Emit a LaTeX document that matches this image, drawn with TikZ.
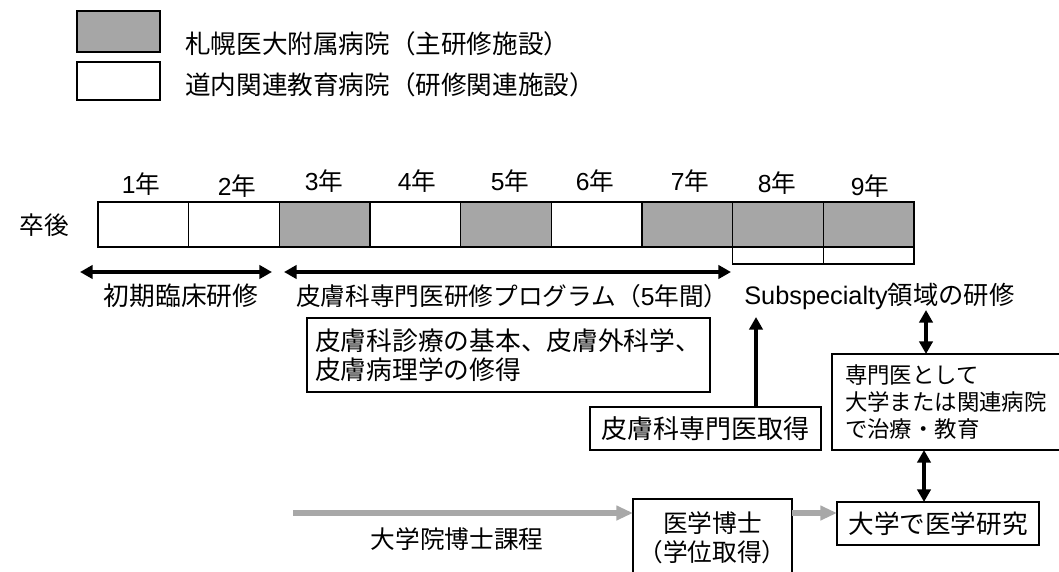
\documentclass[tikz,border=0pt]{standalone}
\usepackage{fontspec}
\setmainfont{Noto Sans CJK JP}
\newfontfamily\latin{Liberation Sans}
\usetikzlibrary{arrows.meta,calc,positioning}
\definecolor{hospgray}{HTML}{A6A6A6}
\definecolor{phdgray}{HTML}{A8A8A8}

\begin{document}
\begin{tikzpicture}[x=0.75pt, y=-0.75pt,
  cellw/.style={draw, line width=1pt, fill=white, minimum width=68pt, minimum height=33.75pt, inner sep=0, outer sep=0},
  cellg/.style={cellw, fill=hospgray},
  subcell/.style={draw, line width=1pt, minimum width=68pt, minimum height=12.75pt, inner sep=0, outer sep=0},
  txt/.style={inner sep=0, font=\fontsize{18.5}{21.75}\selectfont},
  box/.style={draw, line width=0.9pt, inner sep=0, outer sep=0},
  blk/.style={line width=3pt, -{Triangle[length=9.5pt,width=10pt]}},
  dbl/.style={line width=3pt, {Triangle[length=9.5pt,width=10pt]}-{Triangle[length=9.5pt,width=10pt]}},
  gry/.style={draw=phdgray, line width=4.5pt, -{Triangle[length=12.5pt,width=10.5pt]}}]

    \useasboundingbox (0,0) rectangle (1059,571);

    \node[box, fill=hospgray, minimum width=62.25pt, minimum height=30.75pt] (lega) at (118.5,31.5) {};
    \node[box, minimum width=62.25pt, minimum height=28.5pt]                 (legb) at (118.5,81)   {};
    \node[txt, anchor=west, font=\fontsize{19.2}{22}\selectfont] (legta) at (185,44) {札幌医大附属病院（主研修施設）};
    \node[txt, anchor=west, font=\fontsize{19.2}{22}\selectfont] (legtb) at (185,85) {道内関連教育病院（研修関連施設）};

    \node[txt] (after) at (44,225) {卒後};
    \node[cellw]                  (y1) at (143.3,224.5) {};
    \node[cellw, right=0pt of y1] (y2) {};
    \node[cellg, right=0pt of y2] (y3) {};
    \node[cellw, right=0pt of y3] (y4) {};
    \node[cellg, right=0pt of y4] (y5) {};
    \node[cellw, right=0pt of y5] (y6) {};
    \node[cellg, right=0pt of y6] (y7) {};
    \node[cellg, right=0pt of y7] (y8) {};
    \node[cellg, right=0pt of y8] (y9) {};
    \node[subcell, below=0pt of y8] (s8) {};
    \node[subcell, below=0pt of y9] (s9) {};

    \node[txt] (n1) at (141,184) {{\latin 1}年};
    \node[txt] (n2) at (237,186) {{\latin 2}年};
    \node[txt] (n3) at (324,181) {{\latin 3}年};
    \node[txt] (n4) at (417,181) {{\latin 4}年};
    \node[txt] (n5) at (510,181) {{\latin 5}年};
    \node[txt] (n6) at (595,181) {{\latin 6}年};
    \node[txt] (n7) at (690,181) {{\latin 7}年};
    \node[txt] (n8) at (777,183) {{\latin 8}年};
    \node[txt] (n9) at (870,186) {{\latin 9}年};

    \coordinate (inita) at (80,272);
    \coordinate (initb) at (272,272);
    \coordinate (proga) at (284,272);
    \coordinate (progb) at (731,272);
    \draw[dbl] (inita) -- (initb);
    \draw[dbl] (proga) -- (progb);

    \node[txt, font=\fontsize{19.3}{22}\selectfont] (init) at (181,296) {初期臨床研修};
    \node[txt, anchor=west] (prog) at (296,296) {皮膚科専門医研修プログラム（{\latin 5}年間）};
    \node[txt, anchor=west, font=\fontsize{19}{22}\selectfont] (sub) at (744,296) {{\latin Subspecialty}領域の研修};

    \node[box, minimum width=302.25pt, minimum height=55.5pt, text width=290pt, align=left,
          font=\fontsize{19.3}{21.75}\selectfont] (basic) at (508.5,355) {皮膚科診療の基本、皮膚外科学、\\皮膚病理学の修得};

    \node[box, minimum width=173.25pt, minimum height=32.25pt, font=\fontsize{19.5}{22}\selectfont] (get) at (705.5,428.5) {皮膚科専門医取得};
    \coordinate (uptip) at (756,317);
    \draw[blk] (get.north -| uptip) -- (uptip);

    \node[box, minimum width=171pt, minimum height=72pt, text width=151.5pt, align=left,
          font=\fontsize{16.8}{20.6}\selectfont] (spec) at (946,402) {専門医として\\大学または関連病院\\で治療・教育};
    \coordinate (spectop) at (926,310);
    \draw[dbl] (spectop) -- (spec.north -| spectop);

    \node[box, minimum width=151.5pt, minimum height=32.25pt, font=\fontsize{19.2}{22}\selectfont] (research) at (938,523.5) {大学で医学研究};
    \coordinate (resx) at (924,0);
    \draw[dbl] (spec.south -| resx) -- (research.north -| resx);

    \node[box, minimum width=119.25pt, minimum height=58.5pt, align=center,
          font=\fontsize{18.5}{21.75}\selectfont] (phd) at (712.5,538) {医学博士\\（学位取得）};
    \coordinate (course0) at (293,513);
    \draw[gry] (course0) -- (phd.west |- course0);
    \draw[gry] (phd.east |- course0) -- (research.west |- course0);
    \node[txt] (course) at (457,539) {大学院博士課程};

  \end{tikzpicture}
\end{document}
